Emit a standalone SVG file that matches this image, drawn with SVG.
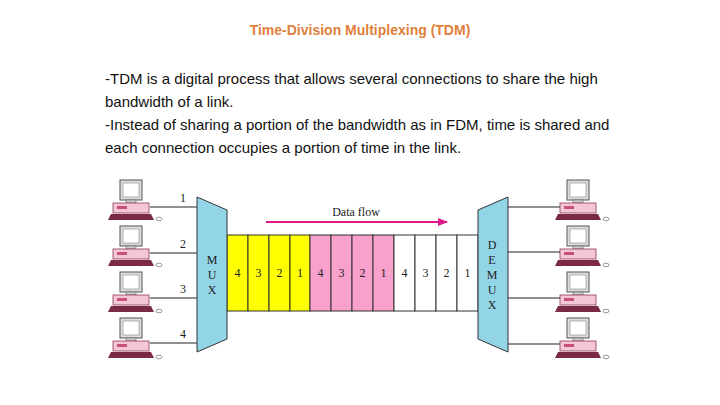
<svg xmlns="http://www.w3.org/2000/svg" width="720" height="405" viewBox="0 0 720 405">
<style>
.t{font-family:"Liberation Sans",Arial,sans-serif}
.s{font-family:"Liberation Serif","Times New Roman",serif;font-size:12px;fill:#222}
.ln{stroke:#222;stroke-width:1.2}
.cell{stroke:#333;stroke-width:1}
.mx{fill:#92d5e6;stroke:#333;stroke-width:1}
</style>
<defs>
<marker id="ah" markerWidth="10" markerHeight="8" refX="9" refY="4" orient="auto" markerUnits="userSpaceOnUse"><path d="M0,0 L10,4 L0,8 z" fill="#e0198a"/></marker>
<g id="pc">
<rect x="12" y="0" width="22" height="20" fill="#ddd" stroke="#555"/>
<rect x="15" y="3" width="16" height="14" fill="#fff" stroke="#888" stroke-width="0.6"/>
<rect x="18" y="20" width="10" height="3" fill="#ccc" stroke="#666" stroke-width="0.6"/>
<rect x="5" y="23" width="36" height="10" fill="#f4c6d8" stroke="#8a3a55" stroke-width="0.8"/>
<rect x="9" y="26" width="10" height="3" fill="#c8507a"/>
<polygon points="3,34 43,34 46,40 0,40" fill="#7a2a45"/>
<ellipse cx="51" cy="39" rx="3" ry="1.8" fill="#fff" stroke="#555" stroke-width="0.6"/>
</g>
</defs>
<text class="t" x="360" y="35" text-anchor="middle" font-size="14" font-weight="bold" fill="#e0803a">Time-Division Multiplexing (TDM)</text>
<g class="t" font-size="15" fill="#111">
<text x="105" y="84">-TDM is a digital process that allows several connections to share the high</text>
<text x="105" y="107">bandwidth of a link.</text>
<text x="105" y="130">-Instead of sharing a portion of the bandwidth as in FDM, time is shared and</text>
<text x="105" y="153">each connection occupies a portion of time in the link.</text>
</g>
<g id="computers">
<use href="#pc" x="108" y="180"/><use href="#pc" x="108" y="226"/><use href="#pc" x="108" y="272"/><use href="#pc" x="108" y="318"/>
<use href="#pc" x="555" y="180"/><use href="#pc" x="555" y="226"/><use href="#pc" x="555" y="272"/><use href="#pc" x="555" y="318"/>
</g>
<g id="connectors">
<line class="ln" x1="150" y1="207" x2="197" y2="207"/>
<line class="ln" x1="150" y1="253" x2="197" y2="253"/>
<line class="ln" x1="150" y1="298" x2="197" y2="298"/>
<line class="ln" x1="150" y1="343" x2="197" y2="343"/>
<line class="ln" x1="508" y1="207" x2="560" y2="207"/>
<line class="ln" x1="508" y1="252" x2="560" y2="252"/>
<line class="ln" x1="508" y1="298" x2="560" y2="298"/>
<line class="ln" x1="508" y1="344" x2="560" y2="344"/>
<line x1="266" y1="222" x2="447" y2="222" stroke="#e0198a" stroke-width="2" marker-end="url(#ah)"/>
</g>
<g class="s">
<text x="183" y="202" text-anchor="middle">1</text>
<text x="183" y="248" text-anchor="middle">2</text>
<text x="183" y="293" text-anchor="middle">3</text>
<text x="183" y="338" text-anchor="middle">4</text>
<text x="356" y="216" text-anchor="middle">Data flow</text>
</g>
<g id="link">
<rect class="cell" x="227" y="235" width="21" height="76" fill="#ffff00"/>
<rect class="cell" x="248" y="235" width="21" height="76" fill="#ffff00"/>
<rect class="cell" x="269" y="235" width="21" height="76" fill="#ffff00"/>
<rect class="cell" x="290" y="235" width="20" height="76" fill="#ffff00"/>
<rect class="cell" x="310" y="235" width="21" height="76" fill="#f7a1cc"/>
<rect class="cell" x="331" y="235" width="21" height="76" fill="#f7a1cc"/>
<rect class="cell" x="352" y="235" width="21" height="76" fill="#f7a1cc"/>
<rect class="cell" x="373" y="235" width="21" height="76" fill="#f7a1cc"/>
<rect class="cell" x="394" y="235" width="21" height="76" fill="#fff"/>
<rect class="cell" x="415" y="235" width="21" height="76" fill="#fff"/>
<rect class="cell" x="436" y="235" width="21" height="76" fill="#fff"/>
<rect class="cell" x="457" y="235" width="21" height="76" fill="#fff"/>
<g class="s" text-anchor="middle">
<text x="237.5" y="277">4</text><text x="258.5" y="277">3</text><text x="279.5" y="277">2</text><text x="300" y="277">1</text>
<text x="320.5" y="277">4</text><text x="341.5" y="277">3</text><text x="362.5" y="277">2</text><text x="383.5" y="277">1</text>
<text x="404.5" y="277">4</text><text x="425.5" y="277">3</text><text x="446.5" y="277">2</text><text x="467.5" y="277">1</text>
</g>
</g>
<g id="mux">
<polygon class="mx" points="197,197 227,210 227,339 197,352"/>
<g class="s" text-anchor="middle"><text x="212" y="264">M</text><text x="212" y="279">U</text><text x="212" y="294">X</text></g>
</g>
<g id="demux">
<polygon class="mx" points="478,210 508,197 508,352 478,339"/>
<g class="s" text-anchor="middle"><text x="492" y="249">D</text><text x="492" y="264">E</text><text x="492" y="279">M</text><text x="492" y="294">U</text><text x="492" y="309">X</text></g>
</g>
</svg>
